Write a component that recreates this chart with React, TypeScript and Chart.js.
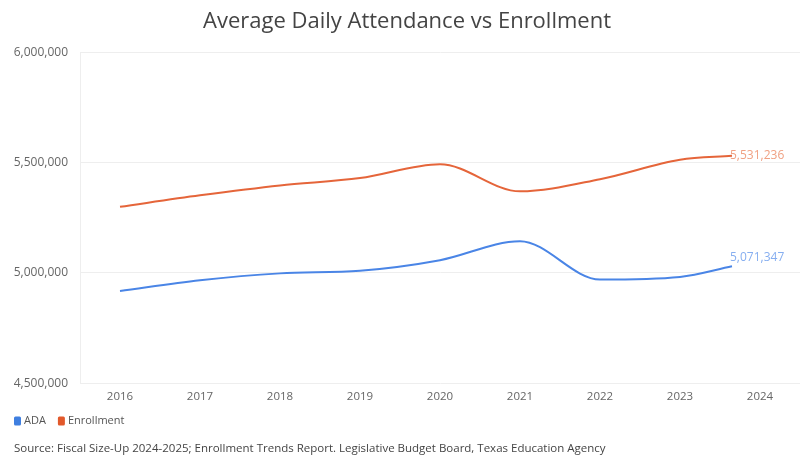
import React, { useEffect, useRef } from "react";
import { Chart, registerables } from "chart.js";

Chart.register(...registerables);

const chartTitle = "Average Daily Attendance vs Enrollment";
const sourceText =
  "Source: Fiscal Size-Up 2024-2025; Enrollment Trends Report. Legislative Budget Board, Texas Education Agency";

const tickYears = [2016, 2017, 2018, 2019, 2020, 2021, 2022, 2023, 2024];
const pointYears = [2016, 2017, 2018, 2019, 2020, 2021, 2022, 2023, 2023.65];
const adaValues = [4918000, 4967000, 4998000, 5010000, 5058000, 5144000, 4970000, 4982000, 5030000];
const enrollmentValues = [5300000, 5352000, 5397000, 5430000, 5493000, 5370000, 5425000, 5513000, 5531236];
const seriesNames = ["ADA", "Enrollment"];
const endLabelValues = [5071347, 5531236];
const yTicks = [4500000, 5000000, 5500000, 6000000];

const lineColors = ["#4a85e6", "#e5653a"];
const legendColors = ["#3f7fe0", "#e2592b"];
const labelColors = ["#86aef0", "#f0a183"];

const FONT = "'Open Sans', 'Noto Sans', sans-serif";
const fmt = (v: number) => v.toLocaleString("en-US");

const extrasPlugin = {
  id: "extras",
  afterDatasetsDraw(chart: any) {
    const ctx = chart.ctx;
    const xs = chart.scales.x;
    const ys = chart.scales.y;
    ctx.save();
    // end labels
    ctx.font = `12px ${FONT}`;
    ctx.textAlign = "left";
    ctx.textBaseline = "middle";
    chart.data.datasets.forEach((ds: any, i: number) => {
      const last = ds.data[ds.data.length - 1];
      const px = xs.getPixelForValue(last.x);
      const py = ys.getPixelForValue(endLabelValues[i]);
      ctx.fillStyle = labelColors[i];
      ctx.fillText(fmt(endLabelValues[i]), px - 2, py);
    });
    // legend
    const ly = chart.height - 34;
    let lx = 14;
    ctx.font = `11px ${FONT}`;
    seriesNames.forEach((name, i) => {
      ctx.fillStyle = legendColors[i];
      ctx.beginPath();
      (ctx as any).roundRect(lx, ly - 4.5, 7, 9, 1.5);
      ctx.fill();
      ctx.fillStyle = "#555";
      ctx.fillText(name, lx + 10, ly);
      lx += 10 + ctx.measureText(name).width + 12;
    });
    // source
    ctx.fillStyle = "#444";
    ctx.font = `11.5px ${FONT}`;
    ctx.fillText(sourceText, 14, chart.height - 6);
    ctx.restore();
  },
};

export default function App() {
  const ref = useRef<HTMLCanvasElement | null>(null);
  useEffect(() => {
    if (!ref.current) return;
    const chart = new Chart(ref.current, {
      type: "line",
      data: {
        datasets: [adaValues, enrollmentValues].map((vals, i) => ({
          label: seriesNames[i],
          data: vals.map((v, j) => ({ x: pointYears[j], y: v })),
          borderColor: lineColors[i],
          backgroundColor: lineColors[i],
          borderWidth: 2,
          pointRadius: 0,
          cubicInterpolationMode: "monotone" as const,
          fill: false,
        })),
      },
      options: {
        responsive: false,
        animation: false,
        layout: { padding: { left: 14, right: 5, top: 0, bottom: 44 } },
        plugins: {
          legend: { display: false },
          tooltip: { enabled: false },
          title: {
            display: true,
            text: chartTitle,
            color: "#444",
            font: { family: FONT, size: 22, weight: "normal" },
            padding: { top: 8.5, bottom: 17.5 },
          },
        },
        scales: {
          x: {
            type: "linear",
            min: 2015.5,
            max: 2024.5,
            afterBuildTicks: (scale: any) => {
              scale.ticks = tickYears.map((v) => ({ value: v }));
            },
            grid: { display: false, drawTicks: false },
            border: { display: false },
            ticks: {
              color: "#666",
              font: { family: FONT, size: 11.5 },
              padding: 7,
              maxRotation: 0,
              autoSkip: false,
              callback: (v: any) => String(v),
            },
          },
          y: {
            min: 4500000,
            max: 6000000,
            afterBuildTicks: (scale: any) => {
              scale.ticks = yTicks.map((v) => ({ value: v }));
            },
            afterFit: (scale: any) => {
              scale.width = 66;
            },
            grid: { color: "#eeeeee", drawTicks: false, lineWidth: 1 },
            border: { display: true, color: "#eeeeee" },
            ticks: {
              color: "#666",
              font: { family: FONT, size: 12 },
              padding: 12,
              callback: (v: any) => fmt(Number(v)),
            },
          },
        },
      },
      plugins: [extrasPlugin],
    });
    return () => chart.destroy();
  }, []);
  return (
    <div style={{ position: "fixed", left: 0, top: 0, width: 805, height: 455, background: "#fff" }}>
      <canvas ref={ref} width={805} height={455} style={{ width: 805, height: 455 }} />
    </div>
  );
}
